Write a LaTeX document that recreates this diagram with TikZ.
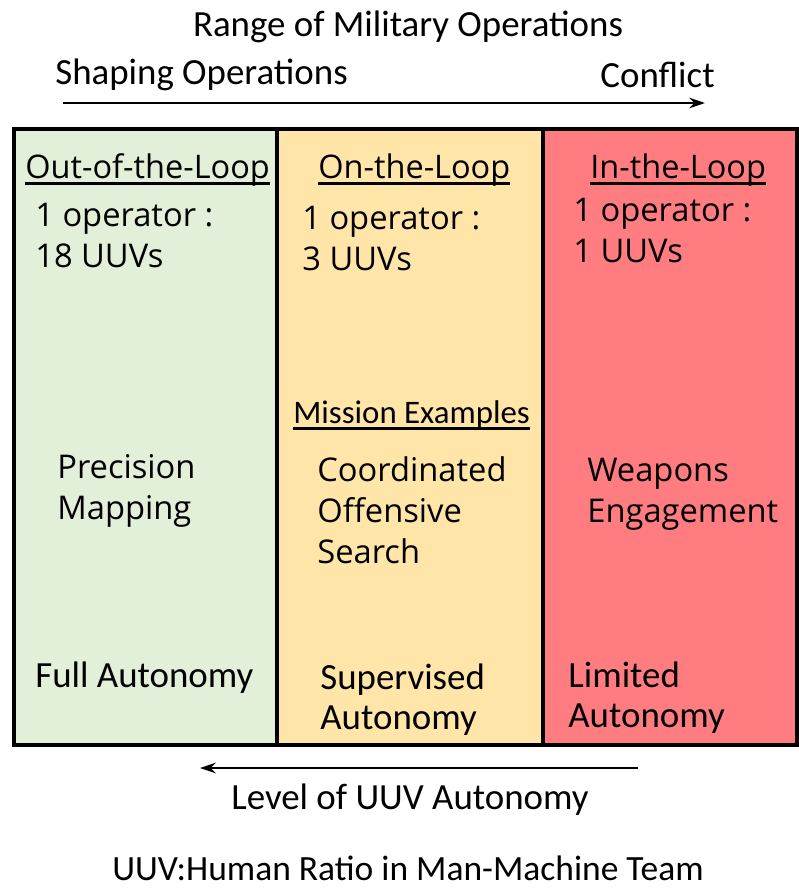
\documentclass[tikz,border=0pt]{standalone}
\usepackage{fontspec}
\setmainfont{Open Sans}
\newfontfamily\calib{Carlito}
\usetikzlibrary{calc,arrows.meta}

\definecolor{outzone}{HTML}{E2EFD9}
\definecolor{onzone}{HTML}{FFE6A8}
\definecolor{inzone}{HTML}{FF7C80}

\newsavebox\ulbox
\newcommand\ulbar[1]{\sbox\ulbox{#1}\usebox\ulbox\llap{\rule[-4pt]{\wd\ulbox}{1.5pt}}}

\begin{document}
\begin{tikzpicture}[x=0.02cm, y=-0.02cm,
  title/.style={font=\calib\fontsize{21}{25}\selectfont, inner sep=0pt},
  loophead/.style={font=\fontsize{18.5}{22}\selectfont, inner sep=0pt, anchor=base west},
  body/.style={font=\fontsize{18.6}{23.4}\selectfont, inner sep=0pt, align=left, anchor=north west},
  calbody/.style={font=\calib\fontsize{21}{22.6}\selectfont, inner sep=0pt, align=left, anchor=north west},
  flow/.style={-{Stealth[length=9pt, width=6pt]}, line width=1.3pt}]

  \useasboundingbox (0,0) rectangle (798,889);

  % Zones
  \fill[outzone] (13,128) rectangle (277,746);
  \fill[onzone] (277,128) rectangle (543,746);
  \fill[inzone] (543,128) rectangle (798,746);
  \draw[line width=2pt] (14,129) rectangle (797,745);
  \draw[line width=2pt] (277,129) -- (277,745);
  \draw[line width=2pt] (543,129) -- (543,745);

  % Top labels
  \node[title] (range) at (408,27) {Range of Military Operations};
  \node[title, anchor=west] (shaping) at (55,75) {Shaping Operations};
  \node[title, anchor=east] (conflict) at (715,75) {Conflict};
  \coordinate (R1) at (63,103);
  \coordinate (R2) at (705,103);
  \draw[flow] (R1) -- (R2);

  % Column heads
  \node[loophead] (outhead) at (25,178) {\ulbar{Out-of-the-Loop}};
  \node[loophead] (onhead) at (318,178) {\ulbar{On-the-Loop}};
  \node[loophead] (inhead) at (590,178) {\ulbar{In-the-Loop}};

  % Ratios
  \node[body] (outratio) at (35,203) {1 operator :\\18 UUVs};
  \node[body] (onratio) at (302,206) {1 operator :\\3 UUVs};
  \node[body] (inratio) at (573,198) {1 operator :\\1 UUVs};

  % Missions
  \node[calbody, font=\calib\fontsize{18.7}{22}\selectfont, anchor=base west] (mission) at (293,423) {\ulbar{Mission Examples}};
  \node[body] (outmission) at (57,454) {Precision\\Mapping};
  \node[body] (onmission) at (317,456) {Coordinated\\Offensive\\Search};
  \node[body] (inmission) at (587,458) {Weapons\\Engagement};

  % Autonomy
  \node[calbody] (outauto) at (35,662) {Full Autonomy};
  \node[calbody] (onauto) at (320,664) {Supervised\\Autonomy};
  \node[calbody] (inauto) at (568,662) {Limited\\Autonomy};

  % Bottom labels
  \coordinate (L1) at (638,768);
  \coordinate (L2) at (200,768);
  \draw[flow] (L1) -- (L2);
  \node[title] (level) at (410,800) {Level of UUV Autonomy};
  \node[title, font=\calib\fontsize{20.2}{24}\selectfont] (ratio) at (408,868) {UUV:Human Ratio in Man-Machine Team};

\end{tikzpicture}
\end{document}
